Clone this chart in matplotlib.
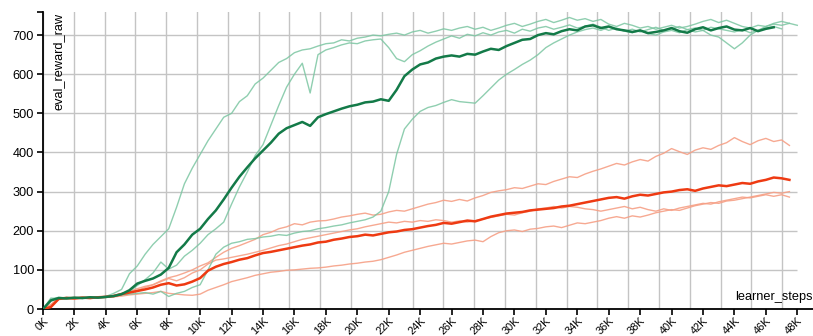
import numpy as np
import matplotlib.pyplot as plt

# learner steps are logged every 500 steps (x in thousands)
step_k = 0.5

# eval_reward_raw, green runs (three seeds + their mean)
green_mean = [0, 22, 28, 27, 29, 28, 30, 29, 31, 33,
              38, 48, 65, 72, 78, 88, 105, 145, 165, 190,
              205, 230, 252, 280, 310, 338, 362, 385, 405, 425,
              448, 462, 470, 478, 468, 490, 498, 505, 512, 518,
              522, 528, 530, 536, 532, 560, 595, 612, 625, 630,
              640, 645, 648, 645, 652, 650, 658, 665, 662, 672,
              680, 688, 690, 700, 705, 702, 710, 715, 712, 722,
              725, 718, 722, 715, 712, 708, 712, 705, 708, 712,
              718, 710, 706, 715, 720, 712, 718, 722, 714, 712,
              718, 710, 716, 720]
green_a = [0, 25, 30, 28, 27, 30, 28, 30, 32, 40,
           50, 90, 110, 140, 165, 185, 205, 260, 320, 360,
           395, 430, 460, 490, 500, 530, 545, 575, 590, 610,
           630, 640, 655, 662, 665, 672, 678, 680, 688, 685,
           692, 695, 700, 698, 702, 705, 700, 708, 712, 705,
           710, 716, 712, 718, 722, 715, 720, 712, 718, 725,
           730, 722, 728, 735, 740, 732, 738, 745, 738, 742,
           735, 740, 728, 722, 730, 725, 718, 722, 715, 720,
           725, 718, 722, 728, 735, 740, 732, 738, 730, 722,
           718, 725, 722, 730, 735, 730, 725]
green_b = [0, 28, 26, 30, 28, 27, 31, 28, 30, 34,
           38, 45, 60, 75, 92, 120, 102, 112, 135, 150,
           168, 190, 205, 222, 268, 312, 350, 392, 420, 470,
           520, 567, 600, 628, 552, 650, 662, 668, 675, 680,
           678, 685, 688, 690, 668, 640, 632, 650, 660, 672,
           682, 690, 698, 692, 702, 698, 706, 700, 708, 712,
           705, 715, 710, 718, 722, 715, 720, 726, 718, 722,
           728, 720, 712, 718, 710, 715, 708, 714, 720, 712,
           716, 722, 714, 708, 712, 700, 695, 680, 665, 680,
           700, 712, 722, 728, 725, 730]
green_c = [0, 20, 28, 26, 29, 27, 28, 30, 29, 33,
           36, 38, 40, 42, 38, 45, 32, 40, 45, 55,
           62, 100, 140, 158, 168, 172, 178, 180, 184, 186,
           190, 188, 194, 198, 200, 205, 208, 212, 215, 220,
           224, 228, 235, 250, 300, 395, 460, 485, 505, 515,
           520, 528, 535, 530, 528, 526, 545, 565, 585, 600,
           612, 625, 636, 650, 668, 680, 690, 700, 708, 714,
           718, 712, 720, 716, 710, 706, 712, 704, 700, 708,
           712, 706, 714, 718, 712, 720, 716, 712, 708, 714,
           706, 712, 718, 722, 716]

# eval_reward_raw, orange runs (three seeds + their mean)
orange_mean = [0, 5, 26, 28, 27, 29, 28, 30, 31, 33,
               38, 42, 46, 50, 55, 62, 66, 60, 63, 70,
               79, 98, 108, 115, 120, 126, 130, 137, 143, 146,
               150, 154, 158, 162, 165, 170, 172, 177, 180, 184,
               186, 190, 188, 192, 196, 198, 202, 204, 208, 212,
               215, 220, 218, 222, 226, 224, 230, 236, 240, 244,
               246, 248, 252, 254, 256, 258, 262, 264, 268, 272,
               276, 280, 284, 286, 282, 288, 292, 290, 294, 298,
               300, 304, 306, 302, 308, 312, 316, 314, 318, 322,
               320, 326, 330, 336, 334, 330]
orange_up = [0, 12, 28, 30, 28, 30, 29, 31, 32, 35,
             40, 45, 52, 58, 62, 72, 80, 85, 92, 100,
             110, 118, 132, 145, 155, 162, 170, 178, 190, 196,
             205, 210, 218, 215, 222, 225, 226, 230, 235, 238,
             242, 245, 240, 242, 248, 252, 250, 256, 262, 268,
             272, 278, 275, 280, 276, 284, 290, 298, 302, 305,
             310, 308, 314, 320, 318, 326, 332, 338, 336, 345,
             352, 358, 365, 372, 368, 376, 382, 378, 390, 398,
             410, 402, 395, 406, 412, 408, 418, 425, 438, 428,
             420, 430, 436, 428, 432, 418]
orange_mid = [0, 10, 27, 29, 30, 28, 30, 29, 31, 34,
              38, 44, 48, 55, 62, 70, 78, 72, 80, 92,
              100, 115, 125, 128, 132, 136, 140, 145, 150, 156,
              162, 166, 172, 178, 182, 186, 190, 194, 198, 202,
              205, 210, 214, 218, 222, 220, 224, 222, 226, 224,
              228, 226, 222, 225, 222, 226, 230, 234, 238, 242,
              240, 246, 250, 256, 258, 262, 258, 262, 260, 256,
              254, 250, 254, 258, 262, 256, 260, 254, 250, 256,
              252, 258, 262, 266, 270, 268, 274, 278, 282, 286,
              284, 288, 292, 288, 292, 286]
orange_low = [0, 6, 24, 27, 26, 28, 27, 29, 30, 31,
              33, 36, 38, 40, 42, 45, 40, 38, 36, 35,
              38, 48, 55, 62, 70, 75, 80, 86, 90, 94,
              96, 99, 100, 102, 104, 105, 107, 110, 112, 115,
              117, 120, 122, 126, 132, 138, 145, 150, 155, 160,
              164, 168, 166, 170, 174, 176, 172, 185, 195, 200,
              202, 198, 204, 206, 210, 212, 208, 214, 220, 218,
              222, 226, 232, 236, 232, 238, 235, 240, 246, 250,
              254, 252, 258, 264, 268, 272, 270, 276, 278, 282,
              286, 290, 294, 298, 296, 300]

x_ticks = list(range(0, 50, 2))
y_ticks = [0, 100, 200, 300, 400, 500, 600, 700]
y_top = 759

plt.rcParams['font.family'] = ['Liberation Sans', 'DejaVu Sans']

fig = plt.figure(figsize=(8.13, 3.36), dpi=100)
ax = fig.add_axes([43 / 813, 27 / 336, 770 / 813, 297 / 336])

# vertical grid sits on its own axis underneath the data
ax_grid = ax.twiny()
ax_grid.set_xlim(0, 50)
ax_grid.set_xticks(x_ticks)
ax_grid.grid(axis='x', color='#c4c4c4', linewidth=1.0)
ax_grid.tick_params(top=False, labeltop=False)
for s in ax_grid.spines.values():
    s.set_visible(False)
ax.set_zorder(ax_grid.get_zorder() + 1)
ax.patch.set_visible(False)


def xs(vals):
    return np.arange(len(vals)) * step_k


light_orange = '#f6a086'
light_green = '#7cc6a2'
for run in (orange_up, orange_mid, orange_low):
    ax.plot(xs(run), run, color=light_orange, lw=1.0, alpha=0.9, zorder=2)
for run in (green_a, green_b, green_c):
    ax.plot(xs(run), run, color=light_green, lw=1.0, alpha=0.85, zorder=2)
ax.plot(xs(orange_mean), orange_mean, color='#ee3a12', lw=1.8, zorder=3)
ax.plot(xs(green_mean), green_mean, color='#137a48', lw=1.8, zorder=3)

# horizontal grid
ax.hlines(y_ticks[1:], 0, 48, color='#c4c4c4', lw=1.0, zorder=1)

ax.set_xlim(0, 49)
ax.set_ylim(0, y_top)
ax.set_xticks(x_ticks)
ax.set_xticklabels([f'{k}K' for k in x_ticks], rotation=45, ha='right',
                   va='top', rotation_mode='anchor')
ax.set_yticks(y_ticks + [y_top])
ax.set_yticklabels([str(v) for v in y_ticks] + [''])
ax.tick_params(axis='both', color='black', width=1.2, length=4.5)
ax.tick_params(axis='y', labelsize=9.2, pad=2)
ax.tick_params(axis='x', labelsize=7.9, pad=0.5)

for side in ('top', 'right'):
    ax.spines[side].set_visible(False)
for side in ('left', 'bottom'):
    ax.spines[side].set_linewidth(1.3)

ax.text(0.013, 0.997, 'eval_reward_raw', rotation=90, ha='left', va='top',
        fontsize=9.2, transform=ax.transAxes)
ax.text(0.999, 0.02, 'learner_steps', ha='right', va='bottom',
        fontsize=9.2, transform=ax.transAxes)

fig.savefig('out.png', dpi=100)
